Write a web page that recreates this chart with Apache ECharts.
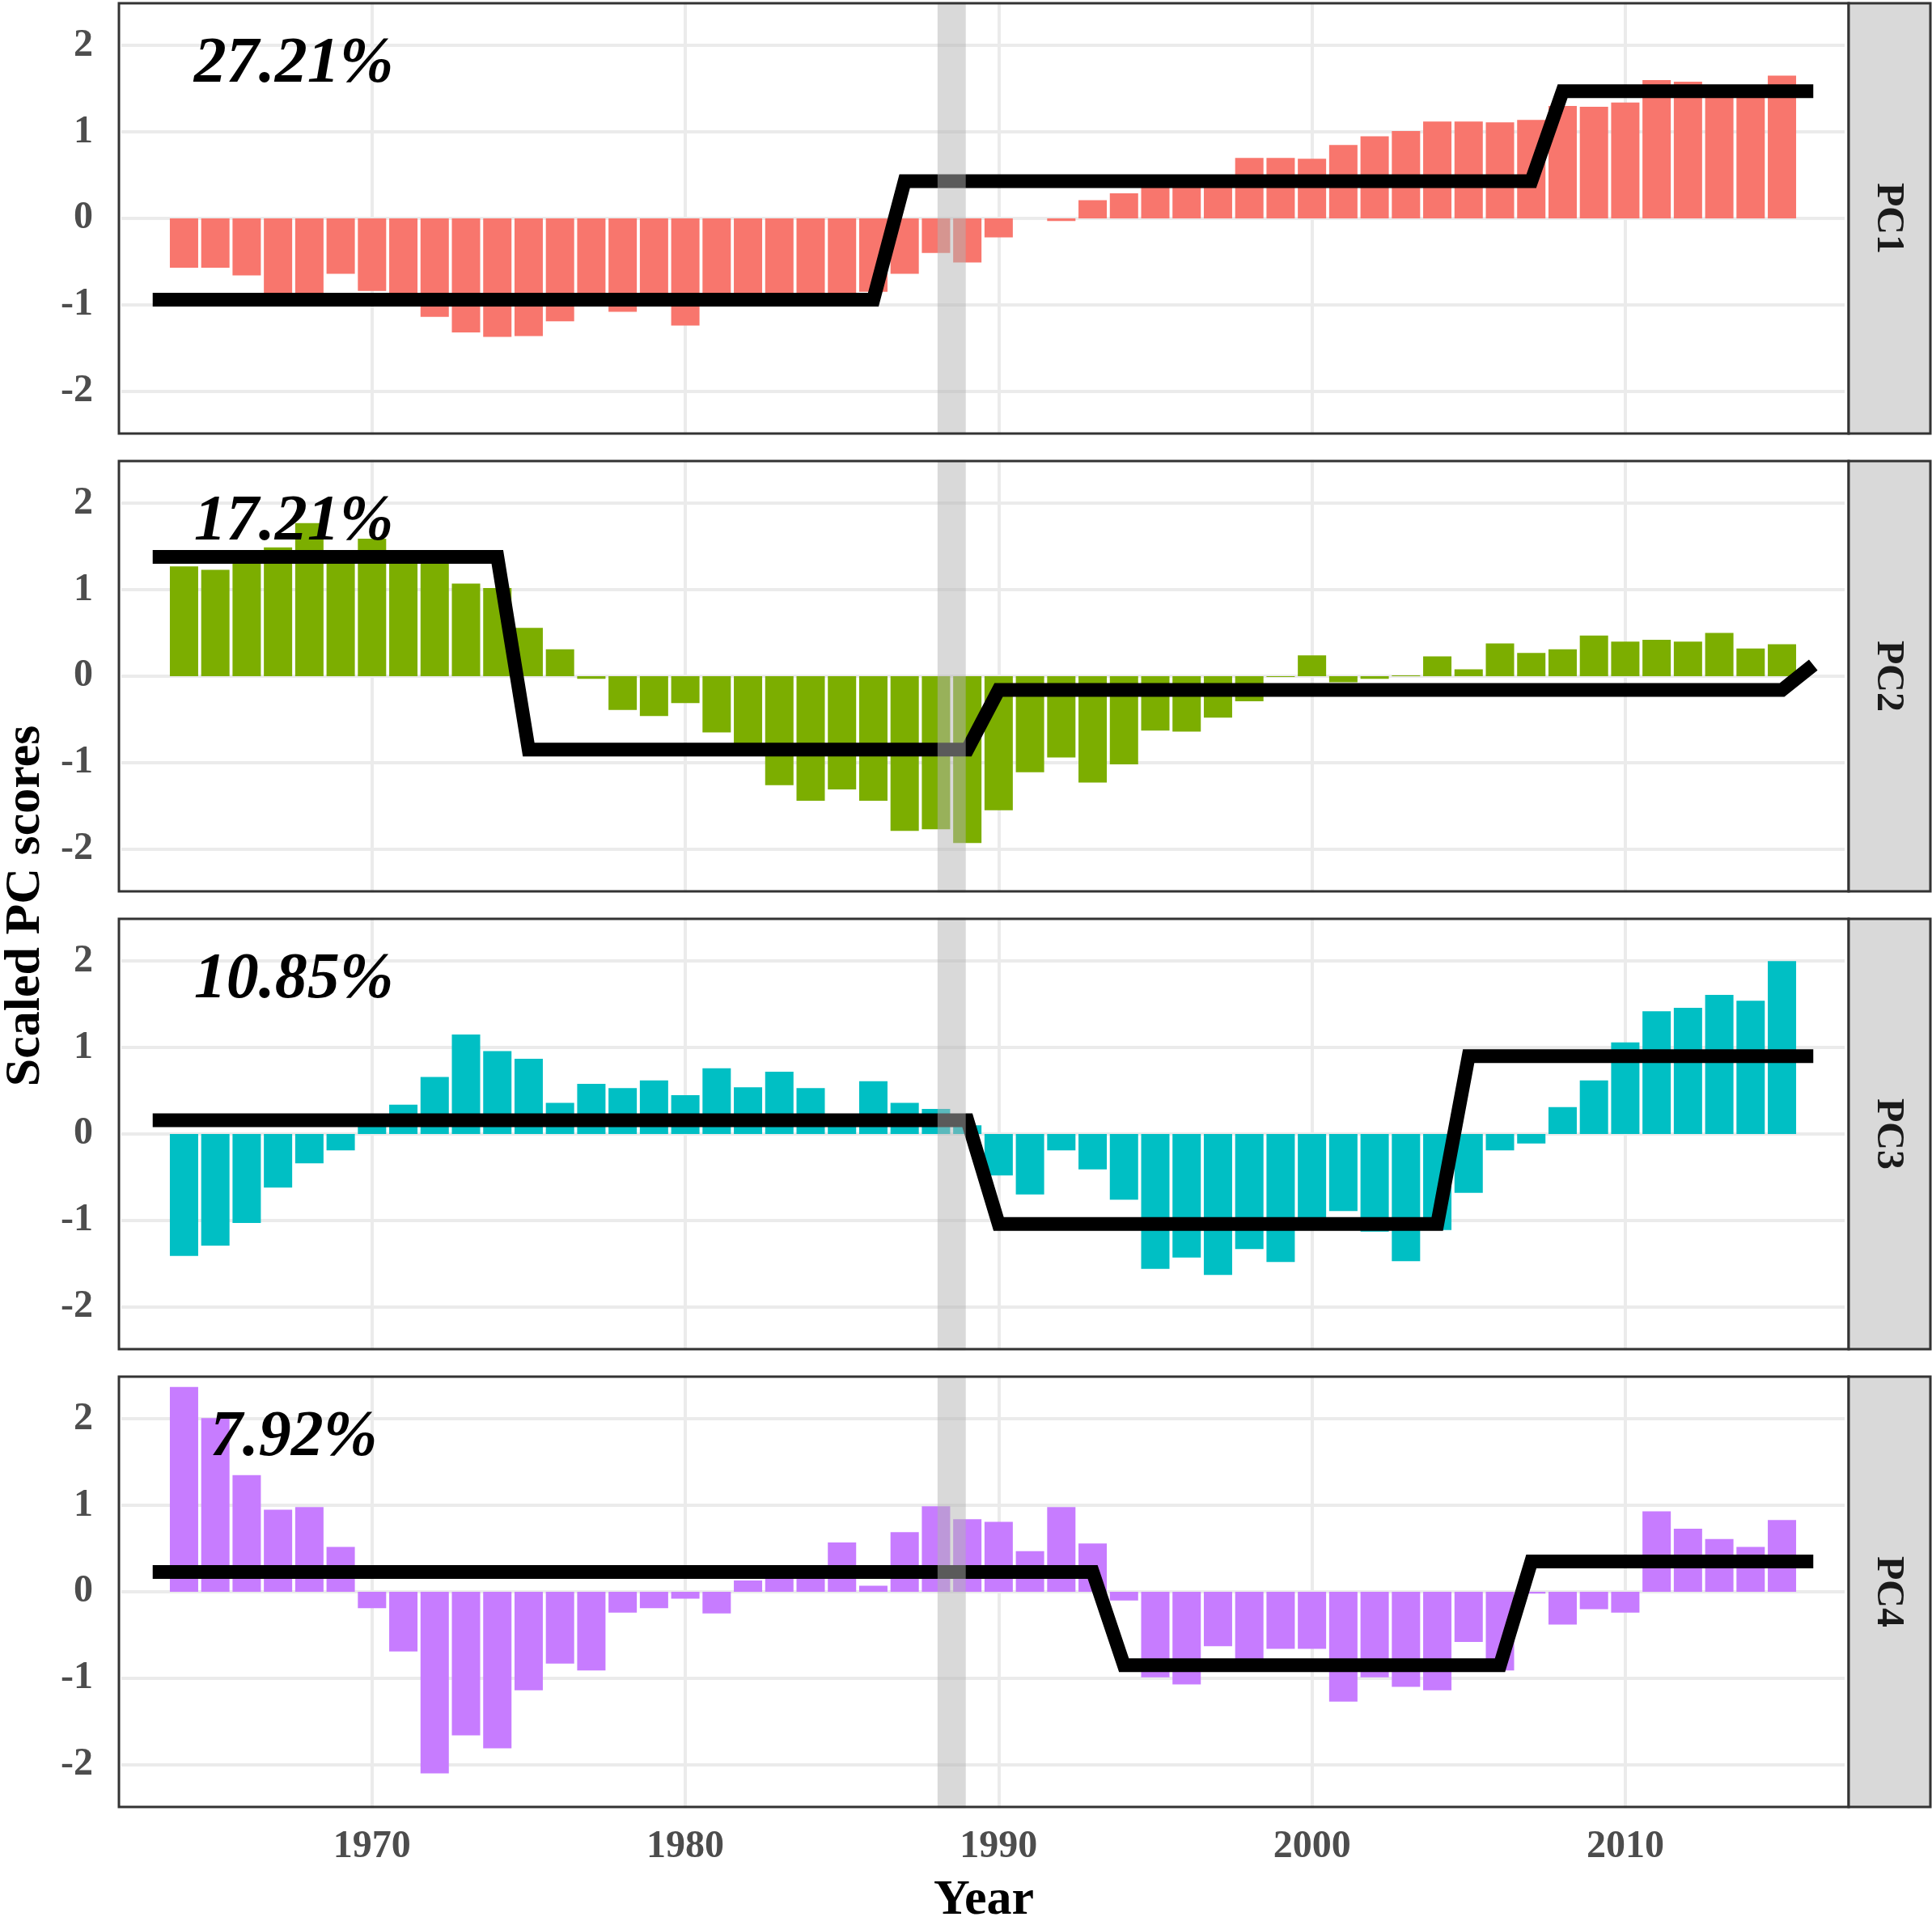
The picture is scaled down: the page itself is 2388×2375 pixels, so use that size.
<!DOCTYPE html>
<html>
<head>
<meta charset="utf-8">
<script src="https://cdn.jsdelivr.net/npm/echarts@6/dist/echarts.min.js"></script>
<style>
html,body{margin:0;padding:0;background:#ffffff;}
#chart{width:2388px;height:2375px;}
</style>
</head>
<body>
<div id="chart"></div>
<script>
// ---------------- data ----------------
const years = [1964,1965,1966,1967,1968,1969,1970,1971,1972,1973,1974,1975,1976,1977,1978,1979,1980,1981,1982,1983,1984,1985,1986,1987,1988,1989,1990,1991,1992,1993,1994,1995,1996,1997,1998,1999,2000,2001,2002,2003,2004,2005,2006,2007,2008,2009,2010,2011,2012,2013,2014,2015];
const lineYears = [1963,1964,1965,1966,1967,1968,1969,1970,1971,1972,1973,1974,1975,1976,1977,1978,1979,1980,1981,1982,1983,1984,1985,1986,1987,1988,1989,1990,1991,1992,1993,1994,1995,1996,1997,1998,1999,2000,2001,2002,2003,2004,2005,2006,2007,2008,2009,2010,2011,2012,2013,2014,2015,2016];

const panelNames = ['PC1','PC2','PC3','PC4'];
const varianceLabels = ['27.21%','17.21%','10.85%','7.92%'];

const pc1Scores = [-0.57,-0.57,-0.66,-0.92,-0.90,-0.64,-0.84,-0.95,-1.14,-1.32,-1.37,-1.36,-1.19,-0.95,-1.08,-0.96,-1.24,-0.95,-0.94,-0.96,-0.95,-0.93,-0.85,-0.64,-0.40,-0.51,-0.22,0.00,-0.03,0.21,0.29,0.40,0.41,0.42,0.70,0.70,0.69,0.85,0.95,1.01,1.12,1.12,1.11,1.14,1.30,1.29,1.34,1.60,1.58,1.48,1.49,1.65];
const pc2Scores = [1.27,1.23,1.40,1.49,1.77,1.42,1.59,1.40,1.38,1.07,1.02,0.56,0.31,-0.03,-0.39,-0.46,-0.31,-0.65,-0.85,-1.26,-1.44,-1.31,-1.44,-1.79,-1.77,-1.93,-1.55,-1.11,-0.94,-1.23,-1.02,-0.63,-0.64,-0.48,-0.29,-0.01,0.24,-0.07,-0.03,0.01,0.23,0.08,0.38,0.27,0.31,0.47,0.40,0.42,0.40,0.50,0.32,0.37];
const pc3Scores = [-1.41,-1.29,-1.03,-0.62,-0.34,-0.19,0.12,0.34,0.66,1.15,0.96,0.87,0.36,0.58,0.53,0.62,0.45,0.76,0.54,0.72,0.53,0.15,0.61,0.36,0.29,0.10,-0.48,-0.70,-0.19,-0.41,-0.76,-1.56,-1.43,-1.63,-1.33,-1.48,-1.05,-0.89,-1.13,-1.47,-1.11,-0.68,-0.19,-0.11,0.31,0.62,1.06,1.42,1.46,1.61,1.54,2.00];
const pc4Scores = [2.37,2.01,1.35,0.95,0.98,0.52,-0.19,-0.69,-2.10,-1.66,-1.81,-1.14,-0.83,-0.91,-0.24,-0.19,-0.08,-0.25,0.13,0.20,0.20,0.57,0.07,0.69,0.99,0.84,0.81,0.47,0.98,0.56,-0.10,-0.99,-1.07,-0.63,-0.85,-0.66,-0.66,-1.27,-0.99,-1.10,-1.14,-0.58,-0.91,-0.02,-0.38,-0.20,-0.24,0.93,0.73,0.61,0.52,0.83];

const pc1Shift = [-0.94,-0.94,-0.94,-0.94,-0.94,-0.94,-0.94,-0.94,-0.94,-0.94,-0.94,-0.94,-0.94,-0.94,-0.94,-0.94,-0.94,-0.94,-0.94,-0.94,-0.94,-0.94,-0.94,-0.94,0.43,0.43,0.43,0.43,0.43,0.43,0.43,0.43,0.43,0.43,0.43,0.43,0.43,0.43,0.43,0.43,0.43,0.43,0.43,0.43,0.43,1.47,1.47,1.47,1.47,1.47,1.47,1.47,1.47,1.47];
const pc2Shift = [1.38,1.38,1.38,1.38,1.38,1.38,1.38,1.38,1.38,1.38,1.38,1.38,-0.85,-0.85,-0.85,-0.85,-0.85,-0.85,-0.85,-0.85,-0.85,-0.85,-0.85,-0.85,-0.85,-0.85,-0.85,-0.16,-0.16,-0.16,-0.16,-0.16,-0.16,-0.16,-0.16,-0.16,-0.16,-0.16,-0.16,-0.16,-0.16,-0.16,-0.16,-0.16,-0.16,-0.16,-0.16,-0.16,-0.16,-0.16,-0.16,-0.16,-0.16,0.13];
const pc3Shift = [0.16,0.16,0.16,0.16,0.16,0.16,0.16,0.16,0.16,0.16,0.16,0.16,0.16,0.16,0.16,0.16,0.16,0.16,0.16,0.16,0.16,0.16,0.16,0.16,0.16,0.16,0.16,-1.04,-1.04,-1.04,-1.04,-1.04,-1.04,-1.04,-1.04,-1.04,-1.04,-1.04,-1.04,-1.04,-1.04,-1.04,0.90,0.90,0.90,0.90,0.90,0.90,0.90,0.90,0.90,0.90,0.90,0.90];
const pc4Shift = [0.23,0.23,0.23,0.23,0.23,0.23,0.23,0.23,0.23,0.23,0.23,0.23,0.23,0.23,0.23,0.23,0.23,0.23,0.23,0.23,0.23,0.23,0.23,0.23,0.23,0.23,0.23,0.23,0.23,0.23,0.23,-0.85,-0.85,-0.85,-0.85,-0.85,-0.85,-0.85,-0.85,-0.85,-0.85,-0.85,-0.85,-0.85,0.35,0.35,0.35,0.35,0.35,0.35,0.35,0.35,0.35,0.35];

const xTickValues = [1970,1980,1990,2000,2010];
const yTickValues = [-2,-1,0,1,2];
const shadedYears = [1988.05, 1988.95];

// ---------------- styling / layout ----------------
const scores = [pc1Scores, pc2Scores, pc3Scores, pc4Scores];
const shifts = [pc1Shift, pc2Shift, pc3Shift, pc4Shift];
const barColors = ['#F8766D','#7CAE00','#00BFC4','#C77CFF'];
const FONT = "'Liberation Serif','Times New Roman',serif";
const panelTops = [4, 570, 1136, 1702];
const panelH = 532;
const panelL = 147, panelR = 2285, stripR = 2386;

const grids = [], xAxes = [], yAxes = [], series = [], graphics = [];

panelTops.forEach((top, i) => {
  grids.push({left: 150, width: 2130, top: top - 1.25, height: 534.5, containLabel: false});
  xAxes.push({
    type: 'value', gridIndex: i, min: 1962, max: 2017, interval: 1,
    axisLine: {show: false}, axisTick: {show: false}, splitLine: {show: false},
    axisLabel: {
      show: i === 3, margin: 24, fontSize: 48, fontWeight: 'bold', fontFamily: FONT, color: '#4d4d4d',
      formatter: v => (xTickValues.indexOf(Math.round(v)) >= 0 && Math.abs(v - Math.round(v)) < 1e-6) ? String(Math.round(v)) : ''
    }
  });
  yAxes.push({
    type: 'value', gridIndex: i, min: -2.5, max: 2.5, interval: 0.5,
    axisLine: {show: false}, axisTick: {show: false}, splitLine: {show: false},
    axisLabel: {
      margin: 35, fontSize: 48, fontWeight: 'bold', fontFamily: FONT, color: '#4d4d4d',
      formatter: v => (yTickValues.indexOf(v) >= 0) ? String(v) : ''
    }
  });

  // gridlines (underneath everything)
  series.push({
    type: 'line', xAxisIndex: i, yAxisIndex: i, data: [], z: 0, silent: true,
    markLine: {
      z: 0, silent: true, symbol: ['none','none'], label: {show: false}, animation: false,
      lineStyle: {color: '#ebebeb', width: 4, type: 'solid'},
      emphasis: {disabled: true},
      data: [].concat(xTickValues.map(v => ({xAxis: v})), yTickValues.map(v => ({yAxis: v})))
    }
  });
  // bars
  series.push({
    type: 'bar', xAxisIndex: i, yAxisIndex: i, z: 2, barWidth: 35,
    data: years.map((y, k) => [y, scores[i][k]]),
    itemStyle: {color: barColors[i]}
  });
  // regime shift line
  series.push({
    type: 'line', xAxisIndex: i, yAxisIndex: i, z: 3, symbol: 'none',
    data: lineYears.map((y, k) => [y, shifts[i][k]]),
    lineStyle: {color: '#000000', width: 17, cap: 'butt', join: 'miter', miterLimit: 10}
  });
  // annotation text + shaded band (on top)
  series.push({
    type: 'scatter', xAxisIndex: i, yAxisIndex: i, z: 6, symbolSize: 0,
    itemStyle: {opacity: 1},
    data: [[1967.5, 1.77]],
    label: {
      show: true, position: 'inside', formatter: varianceLabels[i], opacity: 1,
      fontSize: 80, fontWeight: 'bold', fontStyle: 'italic', fontFamily: FONT, color: '#000000'
    },
    markArea: {
      z: 10, silent: true,
      itemStyle: {color: 'rgba(180,180,180,0.5)'},
      data: [[{xAxis: shadedYears[0]}, {xAxis: shadedYears[1]}]]
    }
  });

  // panel border, strip
  graphics.push({
    type: 'rect', z: 100, silent: true,
    shape: {x: panelL, y: top, width: panelR - panelL, height: panelH},
    style: {fill: 'rgba(0,0,0,0)', stroke: '#333333', lineWidth: 3}
  });
  graphics.push({
    type: 'rect', z: 100, silent: true,
    shape: {x: panelR, y: top, width: stripR - panelR, height: panelH},
    style: {fill: '#d9d9d9', stroke: '#333333', lineWidth: 3}
  });
  graphics.push({
    type: 'text', z: 101, silent: true, x: 2333, y: top + panelH / 2, rotation: -Math.PI / 2,
    style: {text: panelNames[i], fontSize: 48, fontWeight: 'bold', fontFamily: FONT, fill: '#1a1a1a', align: 'center', verticalAlign: 'middle'}
  });
});

graphics.push({
  type: 'text', z: 101, silent: true, x: 32, y: 1120, rotation: Math.PI / 2,
  style: {text: 'Scaled PC scores', fontSize: 62, fontWeight: 'bold', fontFamily: FONT, fill: '#000000', align: 'center', verticalAlign: 'middle'}
});
graphics.push({
  type: 'text', z: 101, silent: true, x: 1216, y: 2350,
  style: {text: 'Year', fontSize: 62, fontWeight: 'bold', fontFamily: FONT, fill: '#000000', align: 'center', verticalAlign: 'middle'}
});

const chart = echarts.init(document.getElementById('chart'), null, {renderer: 'canvas'});
chart.setOption({
  animation: false,
  backgroundColor: '#ffffff',
  grid: grids,
  xAxis: xAxes,
  yAxis: yAxes,
  series: series,
  graphic: graphics
});
</script>
</body>
</html>
